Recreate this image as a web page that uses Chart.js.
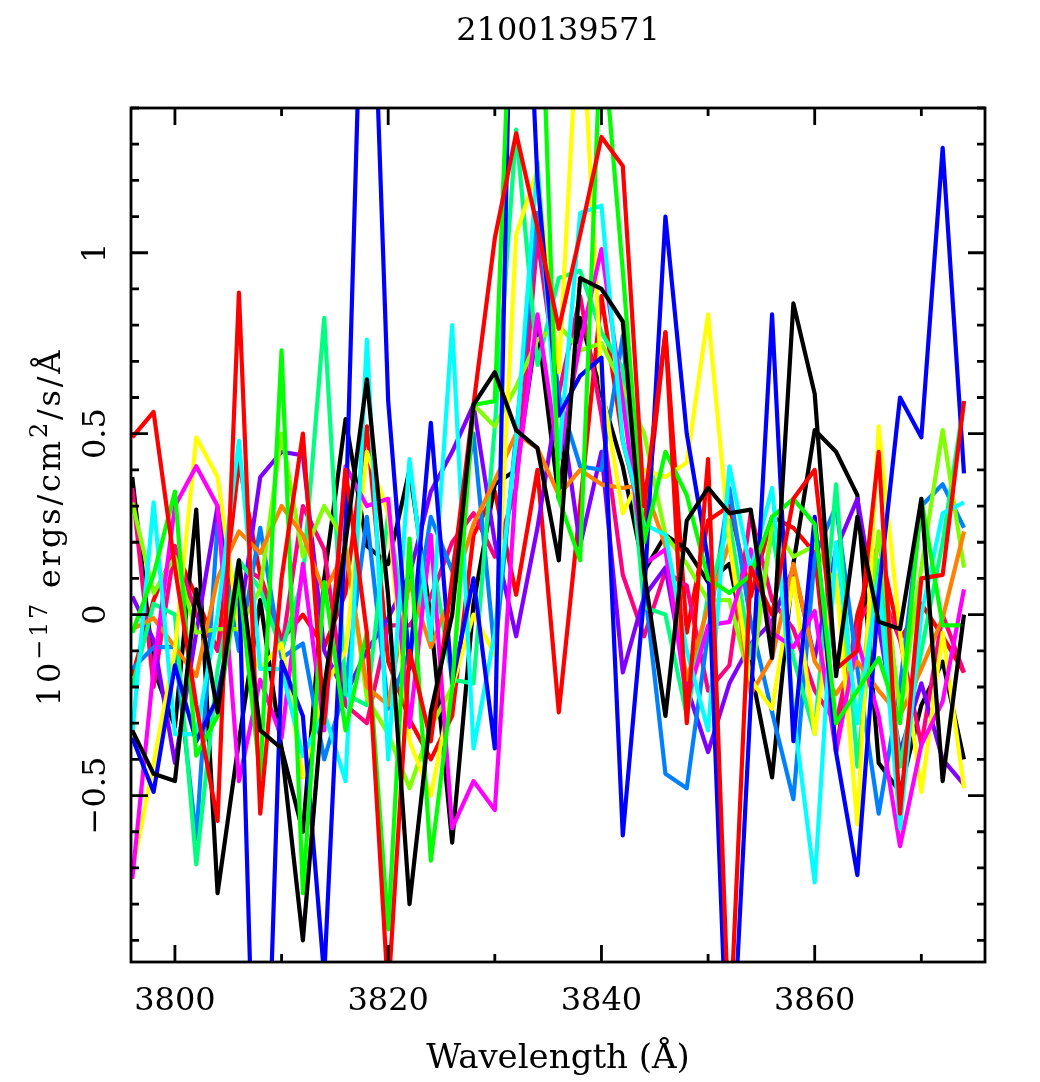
<!DOCTYPE html>
<html>
<head>
<meta charset="utf-8">
<title>2100139571</title>
<style>
  html, body { margin: 0; padding: 0; background: #fff; }
  canvas { display: block; }
</style>
<script src="https://cdn.jsdelivr.net/npm/chart.js@4/dist/chart.umd.js"></script>
</head>
<body>
<canvas id="myChart" width="1040" height="1082"></canvas>
<script>
// wavelengths in angstrom, one spectrum sample every 2 A
const wavelengths = [3796,3798,3800,3802,3804,3806,3808,3810,3812,3814,3816,3818,3820,3822,3824,3826,3828,3830,3832,3834,3836,3838,3840,3842,3844,3846,3848,3850,3852,3854,3856,3858,3860,3862,3864,3866,3868,3870,3872,3874];
const xTicks = [3800,3810,3820,3830,3840,3850,3860,3870];

// flux, drawing order follows seriesList below
const black1 = [-.32,-.44,-.46,.07,-.27,.15,-.32,-.37,-.90,-.2,.2,.65,.05,-.80,-.27,0,.58,.67,.51,.46,.15,.93,.90,.81,.12,-.28,.26,.35,.28,.29,-.12,.86,.61,-.17,.27,-.02,-.04,.32,-.46,0];
const red1 = [.49,.56,.13,-.25,-.57,.89,-.55,.1,.50,-.3,.4,-.05,-1.05,-.1,-.35,.1,.58,1.04,1.33,1.07,.79,1.05,1.32,1.24,.3,.78,-.3,.43,-1.18,.13,0,.32,.40,-.15,-.1,.45,-.55,.1,.11,.59];
const green = [-.05,.11,.34,-.39,-.28,.10,-.45,.73,-.77,.09,-.32,-.05,-.87,.21,-.68,-.2,.58,.59,2.1,2.06,.32,.15,1.65,.95,.2,.45,.33,.1,.06,.11,.27,.32,.25,-.3,-.21,-.12,-.30,.32,-.03,-.03];
const blue = [-.34,-.49,-.14,-.35,-.23,.10,-1.95,-.13,-.28,-1.0,.25,2.3,.59,-.15,.53,-.19,.1,-.37,2.5,1.2,.55,.66,.71,-.61,.05,1.10,.5,.15,-1.4,-.24,.83,-.35,.27,-.38,-.72,.06,.60,.49,1.29,.39];
const cyan = [-.33,.31,-.33,-.33,0,.48,-.15,-.15,-.39,-.27,-.46,.76,-.40,.43,-.07,.80,-.37,-.05,.48,1.25,.43,1.11,1.13,.48,.25,.22,-.1,-.32,.41,.12,.35,-.27,-.74,.2,-.3,.1,-.59,0,.28,.31];
const magenta = [-.73,-.15,.30,.41,.30,-.46,-.18,-.34,.14,-.32,.41,.30,.32,-.31,.22,-.59,-.46,-.54,.37,.83,.43,.75,1.01,.59,.14,.18,-.24,-.03,-.02,.18,-.05,-.09,.01,-.38,-.07,-.28,-.64,-.36,-.24,.07];
const yellow = [-.71,-.41,-.1,.49,.38,-.04,-.15,-.08,-.45,-.2,-.1,.45,.28,-.35,-.50,-.2,0,-.11,1.05,1.23,.67,1.76,.64,.28,.40,.38,.42,.83,.2,-.18,-.26,.10,-.33,.11,-.58,.52,-.05,-.49,-.05,-.48];
const orange = [-.04,-.01,-.09,-.17,.1,.23,.17,.30,.22,.06,.18,-.2,-.25,.09,-.09,.06,.25,.37,.50,.46,.33,.40,.36,.35,.36,.19,-.18,.02,.20,-.22,-.12,.14,-.13,-.22,-.13,-.21,-.28,-.15,-.01,.23];
const chartreuse = [.31,.06,.16,-.05,-.04,-.04,.07,.50,.16,.30,.20,-.23,-.33,-.48,-.31,-.2,.58,.52,.63,.76,.80,.73,.75,.63,.50,.22,.14,.04,.04,-.19,.25,.16,.19,.08,-.3,.23,-.27,.13,.51,.13];
const springGreen = [-.2,.03,0,-.69,-.15,.15,.07,-.1,.1,.82,-.22,-.25,.28,-.1,.18,-.18,-.19,.52,1.34,.69,.93,.95,.78,.68,.02,0,-.28,.05,.26,-.12,.23,-.12,-.33,.36,-.42,.15,-.42,-.1,.2,.59];
const azure = [-.15,-.09,-.09,-.62,.25,-.1,.24,-.12,-.08,-.40,-.2,.27,-.26,-.1,.27,.12,.50,-.11,.5,1.11,.6,.41,.40,.77,.09,-.44,-.48,-.05,.35,-.02,-.27,-.51,.16,.30,-.15,-.55,-.2,.30,.36,.24];
const violet = [.05,-.07,-.41,-.05,.30,-.03,.38,.45,.44,-.1,-.22,-.1,-.01,.11,.34,.45,.58,.20,-.06,.24,.61,.19,.45,-.16,.05,.13,-.2,-.38,-.19,-.08,-.02,.13,-.12,.18,.32,-.03,-.38,-.19,-.40,-.47];
const rose = [.35,-.2,.19,0,-.1,.14,.10,-.10,.30,.18,-.25,-.30,-.03,-.03,.05,.20,.28,.16,.35,1.04,.61,.88,.55,.11,-.06,.12,.08,-.21,-.14,.28,.04,-.04,-.21,-.30,-.03,.08,-.07,-.36,0,-.16];
const black2 = [.38,-.15,-.31,.29,-.77,-.35,.04,-.37,-.6,.1,.54,.19,.14,.40,-.01,-.63,.03,.36,.40,.80,.32,.82,.61,.41,.12,.22,.18,.09,.14,-.15,-.45,.14,.51,.45,.33,-.41,-.49,-.25,-.13,-.40];
const red2 = [-.17,.04,.18,.05,-.1,.42,.11,-.07,0,-.09,.06,.52,-.13,-.29,-.40,-.28,.22,.34,.055,.40,-.27,.30,.88,.48,.24,.78,-.05,.26,.30,.05,.27,.24,.17,-.38,0,.20,-.07,.03,-.06,-.16];

const seriesList = [black1, red1, green, blue, cyan, magenta, yellow, orange, chartreuse, springGreen, azure, violet, rose, black2, red2];
const seriesColors = ['#000000','#ff0000','#00ff00','#0000ff','#00ffff','#ff00ff','#ffff00','#ff7f00','#7fff00','#00ff7f','#007fff','#7f00ff','#ff007f','#000000','#ff0000'];

const yTitleParts = [['10', false], ['−17', true], [' ergs/cm', false], ['2', true], ['/s/Å', false]];

const labelFont = '"DejaVu Serif", serif';

// inward ticks on all four sides plus the frame, taken from the chart's own scales
const frameTicks = {
  id: 'frameTicks',
  afterDatasetsDraw(chart) {
    const { ctx, chartArea: a, scales: { x, y } } = chart;
    ctx.save();
    ctx.strokeStyle = '#000';
    ctx.lineWidth = 2.8;
    ctx.beginPath();
    x.ticks.forEach(t => {
      const px = x.getPixelForValue(t.value);
      const len = Math.round(t.value) % 20 === 0 ? 17 : 8;
      ctx.moveTo(px, a.bottom); ctx.lineTo(px, a.bottom - len);
      ctx.moveTo(px, a.top); ctx.lineTo(px, a.top + len);
    });
    y.ticks.forEach(t => {
      const py = y.getPixelForValue(t.value);
      const len = Math.round(t.value * 10) % 5 === 0 ? 17 : 8;
      ctx.moveTo(a.left, py); ctx.lineTo(a.left + len, py);
      ctx.moveTo(a.right, py); ctx.lineTo(a.right - len, py);
    });
    ctx.stroke();
    ctx.strokeRect(a.left, a.top, a.right - a.left, a.bottom - a.top);
    ctx.restore();
  }
};

// y title with its big superscripts, Chart.js titles only take one font size
const yTitle = {
  id: 'yTitle',
  afterDraw(chart) {
    const { ctx } = chart;
    const big = '32px ' + labelFont;
    const small = '24px ' + labelFont;
    ctx.save();
    ctx.letterSpacing = '2.8px';
    let total = 0;
    yTitleParts.forEach(([s, sup]) => {
      ctx.font = sup ? small : big;
      total += ctx.measureText(s).width;
    });
    ctx.translate(60, 527);
    ctx.rotate(-Math.PI / 2);
    ctx.fillStyle = '#000';
    ctx.textBaseline = 'alphabetic';
    ctx.textAlign = 'left';
    let pos = -total / 2;
    yTitleParts.forEach(([s, sup]) => {
      ctx.font = sup ? small : big;
      ctx.fillText(s, pos, sup ? -13 : 0);
      pos += ctx.measureText(s).width;
    });
    ctx.restore();
  }
};

const ctx = document.getElementById('myChart').getContext('2d');
new Chart(ctx, {
  type: 'line',
  data: {
    datasets: seriesList.map((values, i) => ({
      borderColor: seriesColors[i],
      borderWidth: 4.2,
      borderJoinStyle: 'round',
      pointRadius: 0,
      tension: 0,
      clip: 0,
      data: values.map((v, k) => ({ x: wavelengths[k], y: v })),
    })),
  },
  options: {
    responsive: false,
    animation: false,
    layout: { padding: { right: 55 } },
    plugins: {
      legend: { display: false },
      tooltip: { enabled: false },
      title: {
        display: true,
        text: '2100139571',
        fullSize: false,
        color: '#000',
        font: { family: labelFont, size: 32, weight: 'normal', lineHeight: 1.2 },
        padding: { top: 12, bottom: 57.6 },
      },
    },
    scales: {
      x: {
        type: 'linear',
        min: 3795.88,
        max: 3875.97,
        afterFit(scale) { scale.height = 120; },
        afterBuildTicks(scale) { scale.ticks = xTicks.map(v => ({ value: v })); },
        border: { display: false },
        grid: { display: false },
        ticks: {
          autoSkip: false,
          maxRotation: 0,
          padding: 12,
          color: '#000',
          font: { family: labelFont, size: 32 },
          callback: v => (Math.round(v) % 20 === 0 ? String(Math.round(v)) : ''),
        },
        title: {
          display: true,
          text: 'Wavelength (Å)',
          color: '#000',
          font: { family: labelFont, size: 34, weight: 'normal', lineHeight: 1.2 },
          padding: { top: 0, bottom: 2 },
        },
      },
      y: {
        type: 'linear',
        min: -0.96,
        max: 1.4,
        afterFit(scale) { scale.width = 131; },
        border: { display: false },
        grid: { display: false },
        ticks: {
          stepSize: 0.1,
          autoSkip: false,
          includeBounds: false,
          crossAlign: 'center',
          minRotation: 90,
          maxRotation: 90,
          padding: -13,
          color: '#000',
          font: { family: labelFont, size: 32 },
          callback(v) {
            const n = Math.round(v * 10);
            if (n % 5 !== 0) return '';
            return (n < 0 ? '−' : '') + String(Math.abs(n) / 10);
          },
        },
      },
    },
  },
  plugins: [frameTicks, yTitle],
});
</script>
</body>
</html>
